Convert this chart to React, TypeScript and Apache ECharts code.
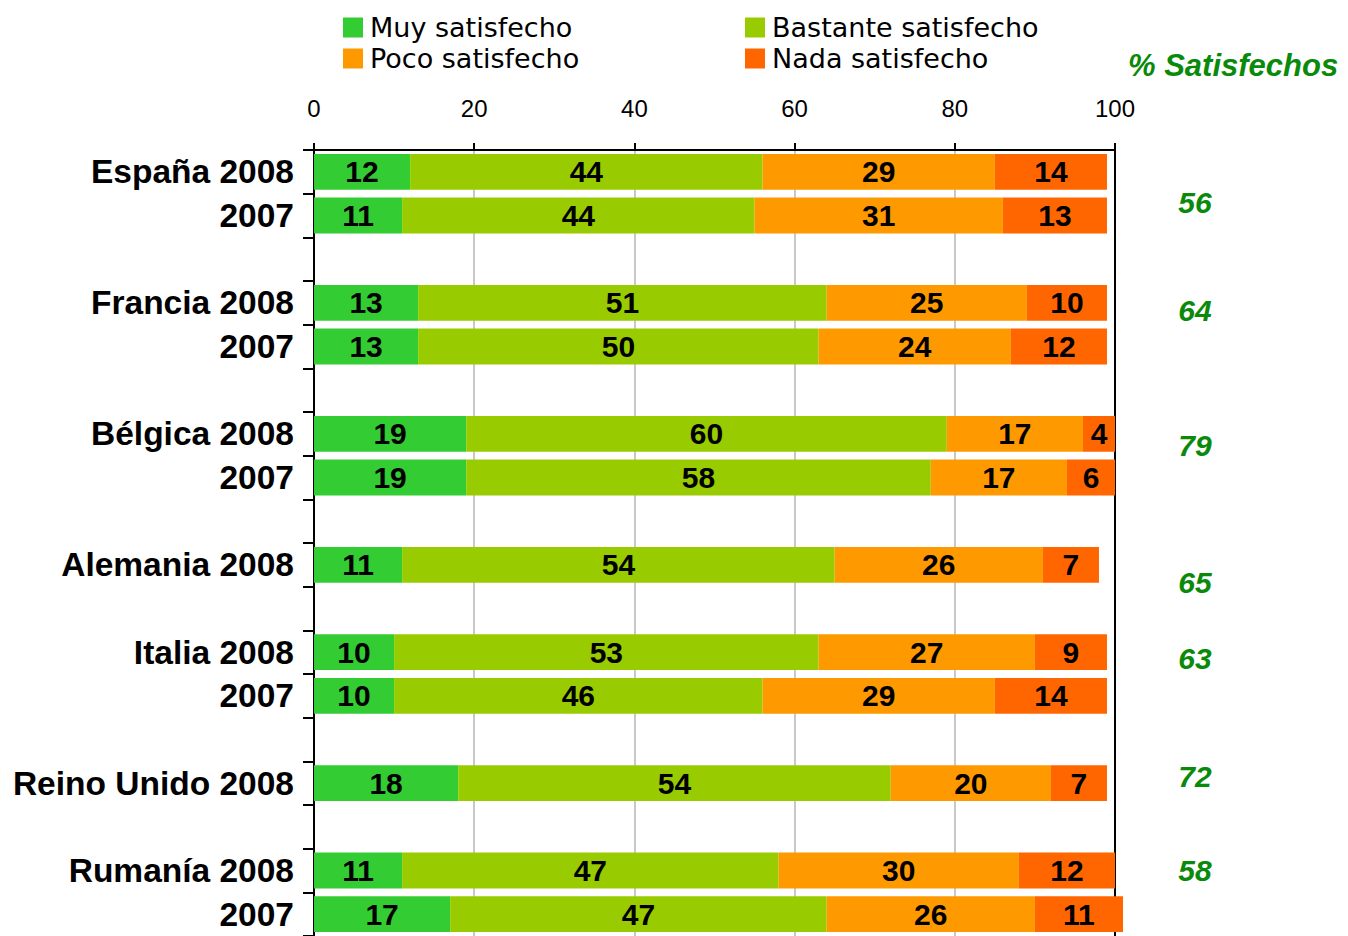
import React, { useEffect, useRef } from "react";
import * as echarts from "echarts";

const categories = [
  "España 2008", "2007", "",
  "Francia 2008", "2007", " ",
  "Bélgica 2008", "2007", "  ",
  "Alemania 2008", "   ",
  "Italia 2008", "2007", "    ",
  "Reino Unido 2008", "     ",
  "Rumanía 2008", "2007",
];

const muy = [12, 11, null, 13, 13, null, 19, 19, null, 11, null, 10, 10, null, 18, null, 11, 17];
const bastante = [44, 44, null, 51, 50, null, 60, 58, null, 54, null, 53, 46, null, 54, null, 47, 47];
const poco = [29, 31, null, 25, 24, null, 17, 17, null, 26, null, 27, 29, null, 20, null, 30, 26];
const nada = [14, 13, null, 10, 12, null, 4, 6, null, 7, null, 9, 14, null, 7, null, 12, 11];

const seriesNames = ["Muy satisfecho", "Bastante satisfecho", "Poco satisfecho", "Nada satisfecho"];
const seriesColors = ["#33CC33", "#99CC00", "#FF9900", "#FF6600"];

const satisfechos = [56, 64, 79, 65, 63, 72, 58];
const satisfechosTop = [202, 310, 445, 582, 658, 776, 870];

const xTicks = { min: 0, max: 100, interval: 20 };

const FONT = "'Liberation Sans', Arial, Helvetica, sans-serif";
const LEGEND_FONT = "'DejaVu Sans', 'Liberation Sans', Arial, sans-serif";

export default function App() {
  const ref = useRef<HTMLDivElement>(null);

  useEffect(() => {
    if (!ref.current) return;
    const chart = echarts.init(ref.current, null, { renderer: "svg" });
    const values = [muy, bastante, poco, nada];

    const legendPos = [
      { left: 343, top: 14 },
      { left: 745, top: 14 },
      { left: 343, top: 45 },
      { left: 745, top: 45 },
    ];

    const option: any = {
      animation: false,
      backgroundColor: "#ffffff",
      textStyle: { fontFamily: FONT },
      legend: seriesNames.map((n, i) => ({
        data: [n],
        left: legendPos[i].left,
        top: legendPos[i].top,
        padding: 0,
        icon: "rect",
        itemWidth: 20,
        itemHeight: 20,
        itemGap: 0,
        selectedMode: false,
        textStyle: {
          fontSize: 27,
          lineHeight: 26,
          color: "#000",
          fontFamily: LEGEND_FONT,
          padding: [0, 0, 0, 2],
        },
      })),
      grid: { left: 314, top: 150, width: 801, height: 788, containLabel: false },
      xAxis: {
        type: "value",
        position: "top",
        min: xTicks.min,
        max: xTicks.max,
        interval: xTicks.interval,
        axisLine: { show: true, lineStyle: { color: "#000", width: 2 } },
        axisTick: { show: true, length: 7, lineStyle: { color: "#000", width: 2 } },
        axisLabel: { fontSize: 24, color: "#000", margin: 30, fontFamily: FONT },
        splitLine: { show: true, lineStyle: { color: "#c8c8c8", width: 2 } },
      },
      yAxis: [
        {
          type: "category",
          inverse: true,
          data: categories,
          axisLine: { show: true, lineStyle: { color: "#000", width: 2 } },
          axisTick: { show: true, interval: 0, length: 11, lineStyle: { color: "#000", width: 2 } },
          axisLabel: {
            interval: 0,
            fontSize: 33.5,
            fontWeight: "bold",
            color: "#000",
            margin: 20,
            fontFamily: FONT,
          },
          splitLine: { show: false },
        },
        {
          type: "category",
          inverse: true,
          position: "right",
          data: categories,
          axisLine: { show: true, lineStyle: { color: "#000", width: 2 } },
          axisTick: { show: false },
          axisLabel: { show: false },
          splitLine: { show: false },
        },
      ],
      series: seriesNames.map((n, i) => ({
        name: n,
        type: "bar",
        stack: "total",
        yAxisIndex: 0,
        clip: false,
        barCategoryGap: "18%",
        itemStyle: { color: seriesColors[i] },
        label: {
          show: true,
          position: "inside",
          color: "#000",
          fontSize: 30,
          fontWeight: "bold",
          fontFamily: FONT,
          formatter: (p: any) => (p.value == null ? "" : String(p.value)),
        },
        data: values[i],
      })),
      graphic: [
        {
          type: "text",
          left: 1128,
          top: 50,
          style: {
            text: "% Satisfechos",
            fill: "#0a8a0a",
            font: `italic bold 31px ${FONT}`,
          },
        },
        ...satisfechos.map((v, i) => ({
          type: "text",
          x: 1195,
          y: satisfechosTop[i],
          style: {
            text: String(v),
            fill: "#0a8a0a",
            font: `italic bold 30px ${FONT}`,
            textAlign: "center",
            textVerticalAlign: "middle",
          },
        })),
      ],
    };

    chart.setOption(option);
    return () => chart.dispose();
  }, []);

  return (
    <div
      ref={ref}
      style={{ position: "fixed", left: 0, top: 0, width: 1348, height: 936, background: "#fff" }}
    />
  );
}
